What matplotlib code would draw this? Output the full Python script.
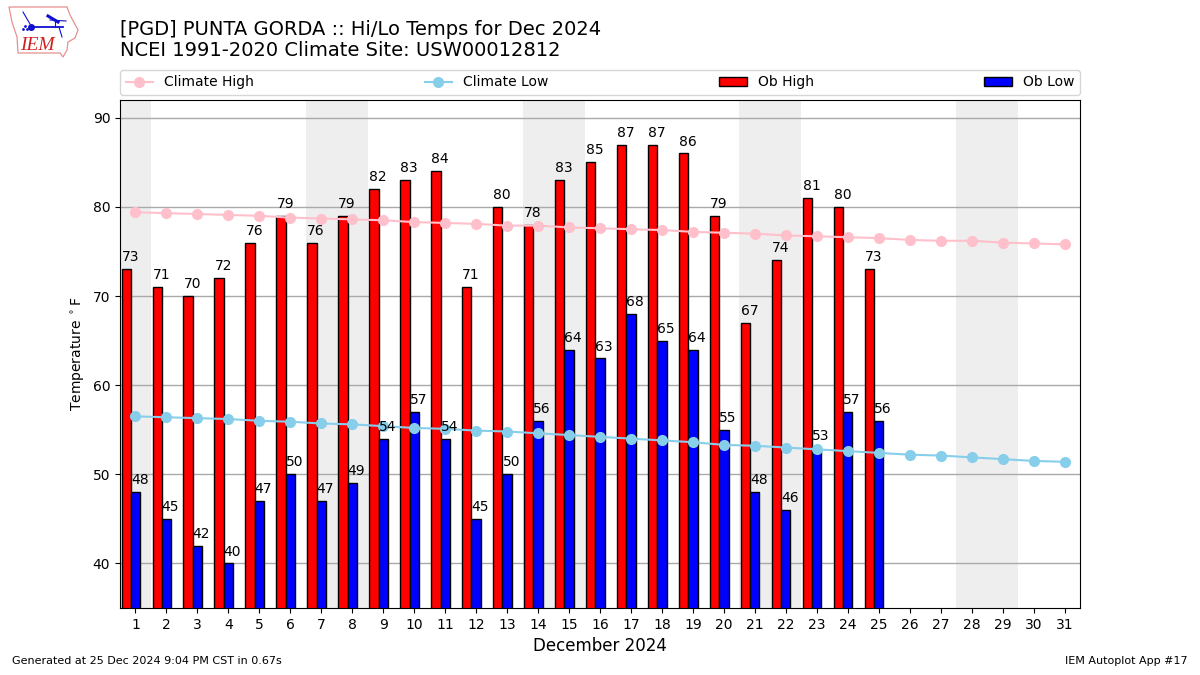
import matplotlib
matplotlib.use("Agg")
import matplotlib.pyplot as plt
from matplotlib.patches import Polygon

# values
days = list(range(1, 32))
ob_days = list(range(1, 26))
ob_high = [73, 71, 70, 72, 76, 79, 76, 79, 82, 83, 84, 71, 80, 78, 83, 85, 87, 87, 86, 79, 67, 74, 81, 80, 73]
ob_low = [48, 45, 42, 40, 47, 50, 47, 49, 54, 57, 54, 45, 50, 56, 64, 63, 68, 65, 64, 55, 48, 46, 53, 57, 56]
climate_high = [79.4, 79.3, 79.2, 79.1, 79.0, 78.8, 78.7, 78.6, 78.5, 78.3, 78.2, 78.1, 77.9, 77.9, 77.7, 77.6,
                77.5, 77.4, 77.2, 77.1, 77.0, 76.8, 76.7, 76.6, 76.5, 76.3, 76.2, 76.2, 76.0, 75.9, 75.8]
climate_low = [56.5, 56.4, 56.3, 56.2, 56.0, 55.9, 55.7, 55.6, 55.4, 55.2, 55.1, 54.9, 54.8, 54.6, 54.4, 54.2,
               54.0, 53.8, 53.6, 53.3, 53.2, 53.0, 52.8, 52.6, 52.4, 52.2, 52.1, 51.9, 51.7, 51.5, 51.4]
weekends = [(0.5, 1.5), (6.5, 8.5), (13.5, 15.5), (20.5, 22.5), (27.5, 29.5)]

fig = plt.figure(figsize=(12, 6.75), dpi=100)
ax = fig.add_axes([0.1, 0.0993, 0.8, 0.7526])

# weekend shading
for start, end in weekends:
    ax.axvspan(start, end, color="#eeeeee", lw=0, zorder=0)

width = 0.3
ax.bar([d - 0.3 for d in ob_days], ob_high, width=width, color="red", edgecolor="black", label="Ob High", zorder=2)
ax.bar(ob_days, ob_low, width=width, color="blue", edgecolor="black", label="Ob Low", zorder=2)
ax.plot(days, climate_high, color="pink", marker="o", ms=7, lw=1.5, label="Climate High", zorder=3)
ax.plot(days, climate_low, color="skyblue", marker="o", ms=7, lw=1.5, label="Climate Low", zorder=3)

# value labels
for d, hi, lo in zip(ob_days, ob_high, ob_low):
    ax.text(d - 0.45, hi + 0.55, str(hi), ha="left", va="bottom", fontsize=10, zorder=4)
    ax.text(d - 0.15, lo + 0.55, str(lo), ha="left", va="bottom", fontsize=10, zorder=4)

ax.set_xlim(0.5, 31.5)
ax.set_ylim(35, 92)
ax.set_xticks(days)
ax.set_yticks([40, 50, 60, 70, 80, 90])
ax.set_axisbelow(True)
ax.grid(axis="y", color="#aaaaaa", lw=1)
ax.set_xlabel("December 2024", fontsize=12)
ax.set_ylabel("Temperature $^\\circ$F", fontsize=10)

handles, labels = ax.get_legend_handles_labels()
order = [labels.index(n) for n in ["Climate High", "Climate Low", "Ob High", "Ob Low"]]
ax.legend([handles[i] for i in order], [labels[i] for i in order], ncol=4, mode="expand",
          loc="lower left", bbox_to_anchor=(0, 1.0098, 1, 0.05), borderaxespad=0, fontsize=10)

fig.text(0.1, 0.957, "[PGD] PUNTA GORDA :: Hi/Lo Temps for Dec 2024", fontsize=14, ha="left", va="center")
fig.text(0.1, 0.925, "NCEI 1991-2020 Climate Site: USW00012812", fontsize=14, ha="left", va="center")
fig.text(0.01, 0.0126, "Generated at 25 Dec 2024 9:04 PM CST in 0.67s", fontsize=8, ha="left", va="bottom")
fig.text(0.99, 0.0126, "IEM Autoplot App #17", fontsize=8, ha="right", va="bottom")

# IEM logo, drawn in pixel space of a small inset
logo = fig.add_axes([0, 0.91, 0.07, 0.09])
logo.set_xlim(0, 84)
logo.set_ylim(60.75, 0)
logo.axis("off")
logo.add_patch(Polygon([(9, 7), (67, 7), (70, 15), (78, 30), (75, 38), (68, 42), (67, 50), (63, 57), (60, 53),
                        (18, 53), (17, 37), (12, 22)],
                       closed=True, fill=False, ec="#e89090", lw=0.9))
blue = "#1010d0"
logo.plot([31, 63], [27, 27], color=blue, lw=1.3)
logo.plot([31], [27], "o", color=blue, ms=4)
logo.plot([23, 30], [12, 24], color=blue, lw=0.8)
logo.plot([48, 58], [16, 22], color=blue, lw=2.2)
logo.plot([50, 66], [20, 21], color=blue, lw=0.8)
logo.plot([55, 55], [22, 27], color=blue, lw=0.8)
logo.plot([59, 62], [27, 37], color=blue, lw=0.8)
logo.plot([23, 25, 27], [29, 26, 29], ".", color=blue, ms=2)
logo.text(37, 45, "IEM", color="#d02020", fontsize=14, family="Liberation Serif", style="italic", ha="center", va="center")

plt.savefig("out.png", dpi=100)
